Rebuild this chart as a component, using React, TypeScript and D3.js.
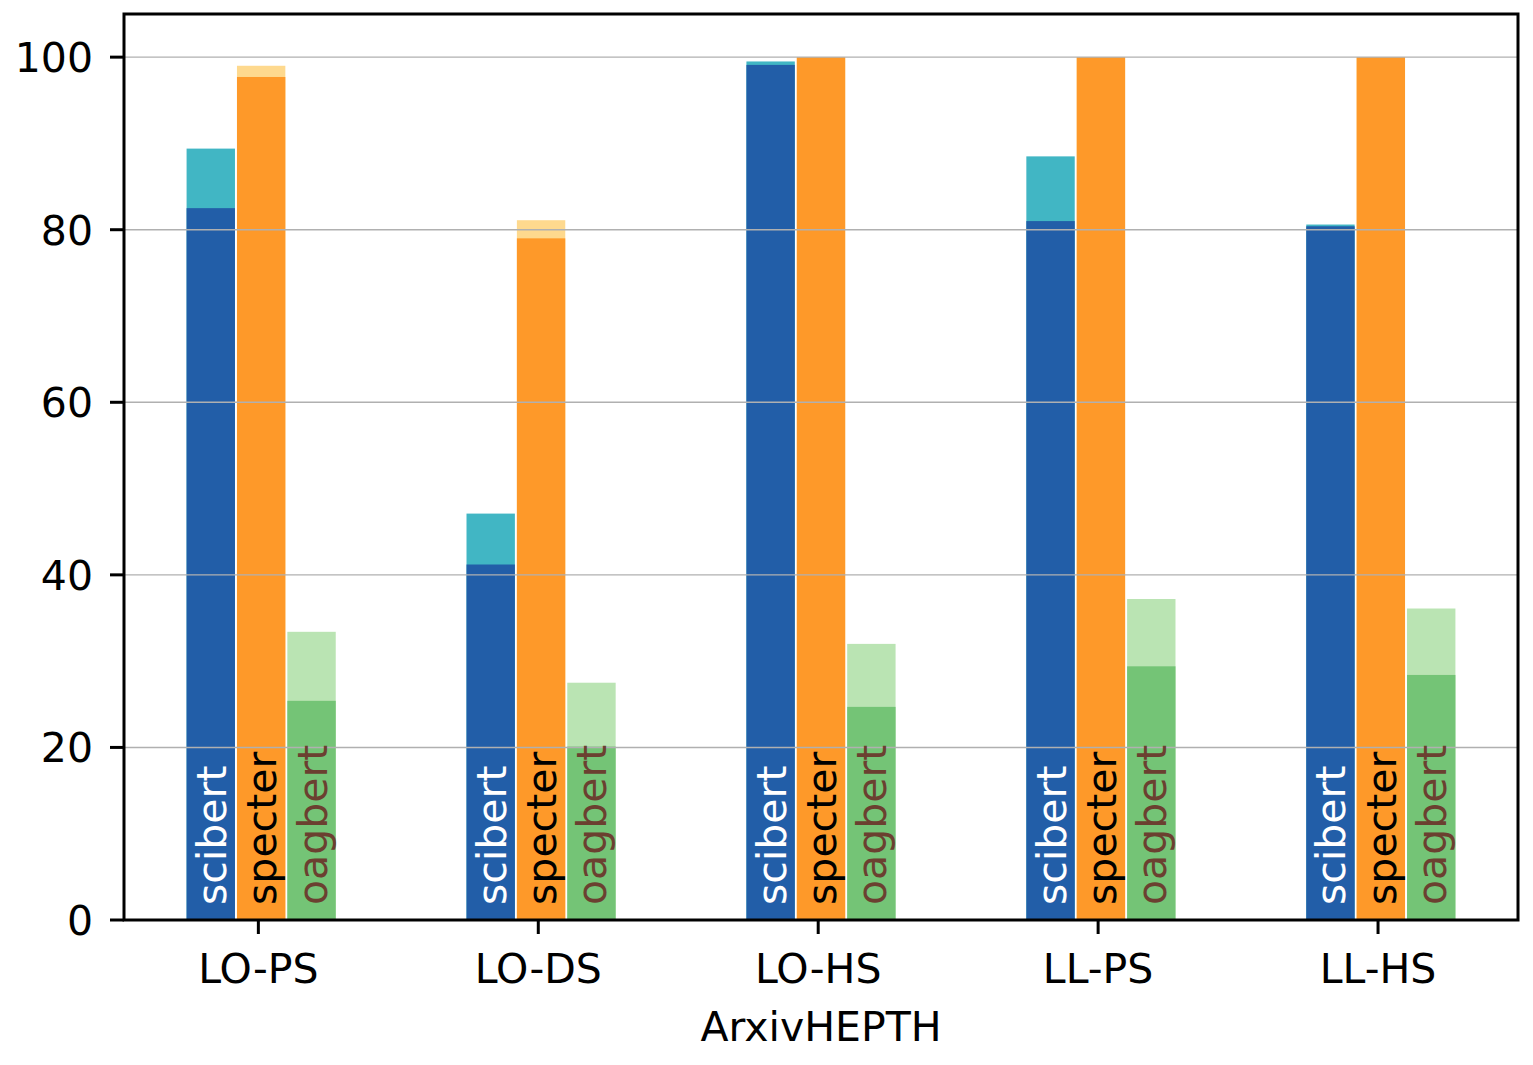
import * as d3 from 'd3';

const categories = ['LO-PS', 'LO-DS', 'LO-HS', 'LL-PS', 'LL-HS'];
const models = ['scibert', 'specter', 'oagbert'];

// dark part (lower value) and light part (upper value) per model
const scibertLow = [82.5, 41.2, 99.1, 81.0, 80.4];
const scibertHigh = [89.4, 47.1, 99.5, 88.5, 80.6];
const specterLow = [97.7, 79.0, 100, 100, 100];
const specterHigh = [99.0, 81.1, 100, 100, 100];
const oagbertLow = [25.4, 20.1, 24.7, 29.4, 28.4];
const oagbertHigh = [33.4, 27.5, 32.0, 37.2, 36.1];

const yTicks = [0, 20, 40, 60, 80, 100];

const lowSeries = [scibertLow, specterLow, oagbertLow];
const highSeries = [scibertHigh, specterHigh, oagbertHigh];
const darkColors = ['#225ea8', '#fe9929', '#74c476'];
const lightColors = ['#41b6c4', '#fed98e', '#bae4b3'];
const textColors = ['#ffffff', '#000000', '#6b4030'];
const offsets = [-0.17, 0.01, 0.19];
const barWidth = 0.18;

const W = 1533;
const H = 1065;
const m = { left: 124, right: 1518, top: 14, bottom: 920 };
const font = 'DejaVu Sans, sans-serif';

export default function App() {
  const x = d3.scaleLinear().domain([-0.48, 4.5]).range([m.left, m.right]);
  const y = d3.scaleLinear().domain([0, 105]).range([m.bottom, m.top]);
  const bw = x(barWidth) - x(0);

  return (
    <div style={{ position: 'absolute', left: 0, top: 0 }}>
      <svg width={W} height={H} style={{ display: 'block', background: '#fff' }}>
        {/* bars: light (upper) first, dark on top */}
        {models.map((name, s) =>
          categories.map((c, i) => {
            const cx = x(i + offsets[s]);
            return (
              <g key={`${name}-${c}`}>
                <rect
                  x={cx - bw / 2 + 1}
                  width={bw - 2}
                  y={y(highSeries[s][i])}
                  height={y(0) - y(highSeries[s][i])}
                  fill={lightColors[s]}
                />
                <rect
                  x={cx - bw / 2 + 1}
                  width={bw - 2}
                  y={y(lowSeries[s][i])}
                  height={y(0) - y(lowSeries[s][i])}
                  fill={darkColors[s]}
                />
              </g>
            );
          })
        )}

        {/* grid over bars */}
        {yTicks.filter(t => t > 0).map(t => (
          <line key={t} x1={m.left} x2={m.right} y1={y(t)} y2={y(t)} stroke="#b0b0b0" strokeWidth={1.4} />
        ))}

        {/* labels inside bars */}
        {models.map((name, s) =>
          categories.map((c, i) => {
            const tx = x(i + offsets[s]) + 15;
            const ty = y(0) - 15;
            return (
              <text
                key={`t-${name}-${c}`}
                transform={`translate(${tx},${ty}) rotate(-90)`}
                fontFamily={font}
                fontSize={41}
                fill={textColors[s]}
              >
                {name}
              </text>
            );
          })
        )}

        {/* frame */}
        <rect
          x={m.left}
          y={m.top}
          width={m.right - m.left}
          height={m.bottom - m.top}
          fill="none"
          stroke="#000"
          strokeWidth={3}
        />

        {/* y axis */}
        {yTicks.map(t => (
          <g key={`y${t}`}>
            <line x1={m.left - 14} x2={m.left} y1={y(t)} y2={y(t)} stroke="#000" strokeWidth={3} />
            <text
              x={m.left - 31}
              y={y(t) + 15}
              textAnchor="end"
              fontFamily={font}
              fontSize={41}
              fill="#000"
            >
              {t}
            </text>
          </g>
        ))}

        {/* x axis */}
        {categories.map((c, i) => (
          <g key={`x${c}`}>
            <line x1={x(i)} x2={x(i)} y1={m.bottom} y2={m.bottom + 14} stroke="#000" strokeWidth={3} />
            <text x={x(i)} y={m.bottom + 63} textAnchor="middle" fontFamily={font} fontSize={41} fill="#000">
              {c}
            </text>
          </g>
        ))}
        <text
          x={(m.left + m.right) / 2}
          y={m.bottom + 121}
          textAnchor="middle"
          fontFamily={font}
          fontSize={41}
          fill="#000"
        >
          ArxivHEPTH
        </text>
      </svg>
    </div>
  );
}
